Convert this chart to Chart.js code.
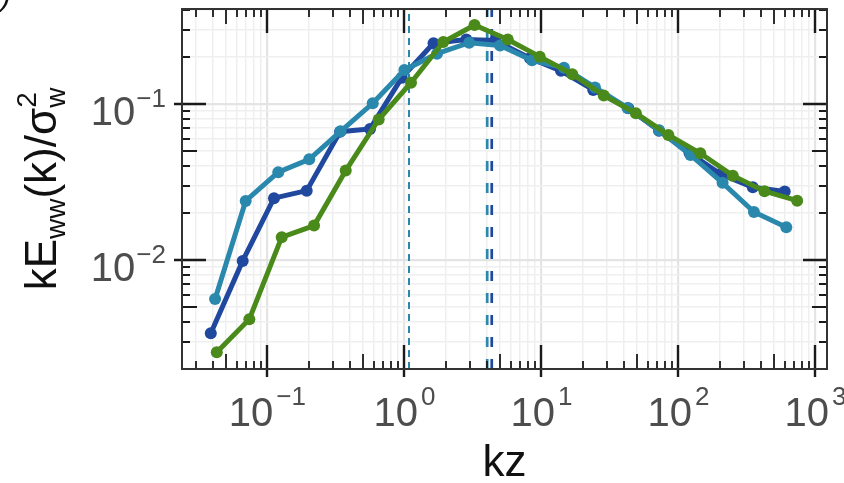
<!DOCTYPE html>
<html lang="en">
<head>
<meta charset="UTF-8">
<title>Vertical velocity spectrum</title>
<style>
  body { margin: 0; background: #fff; }
  #wrap { width: 844px; height: 483px; }
</style>
</head>
<body>
<div id="wrap"><canvas id="spec" width="844" height="483"></canvas></div>
<script src="https://cdn.jsdelivr.net/npm/chart.js"></script>
<script>
// values (kz, premultiplied spectrum)
const kzBlue = [0.0386, 0.066, 0.1117, 0.1936, 0.339, 0.561, 0.956, 1.631, 2.83, 4.6, 8.26, 13.9, 23.9, 43.1, 72.2, 120.5, 202, 349, 597];
const eBlue  = [0.00339, 0.00986, 0.0249, 0.0278, 0.0664, 0.0692, 0.147, 0.245, 0.259, 0.255, 0.196, 0.163, 0.123, 0.0938, 0.0674, 0.0485, 0.0356, 0.0292, 0.0275];

const kzTeal = [0.0415, 0.0694, 0.120, 0.202, 0.342, 0.587, 1.00, 1.73, 2.97, 4.99, 8.54, 14.6, 24.6, 42.5, 72.2, 122.5, 210, 356, 613];
const eTeal  = [0.00562, 0.0239, 0.0365, 0.0442, 0.0668, 0.101, 0.165, 0.210, 0.247, 0.237, 0.1905, 0.1706, 0.1276, 0.0943, 0.0678, 0.0471, 0.0312, 0.0203, 0.0162];

const kzGreen = [0.0427, 0.0738, 0.1272, 0.219, 0.373, 0.649, 1.117, 1.923, 3.25, 5.68, 9.72, 16.8, 28.5, 48.9, 84.4, 144.5, 249.5, 425, 736];
const eGreen  = [0.00256, 0.00417, 0.0140, 0.0166, 0.0374, 0.0795, 0.1368, 0.2496, 0.3206, 0.259, 0.201, 0.155, 0.1134, 0.0872, 0.0633, 0.0483, 0.0347, 0.0276, 0.0240];

// vertical dashed markers
const markTealLow = 1.08;
const markTeal = 4.02;
const markBlue = 4.34;

// axes
const xMin = 0.0238, xMax = 1215;
const yMin = 0.002, yMax = 0.406;
const xLabelExp = [-1, 0, 1, 2, 3];
const yLabelExp = [-2, -1];
const xDecades = [-2, -1, 0, 1, 2, 3];
const yDecades = [-3, -2, -1];

const BLUE = '#20489e', TEAL = '#2a88ad', GREEN = '#4a8a1a';
const FONT = "'Liberation Sans', Arial, sans-serif";

function tickValues(decades, lo, hi) {
    const out = [];
    decades.forEach(d => {
        for (let s = 1; s <= 9; s++) {
            const v = s * Math.pow(10, d);
            if (v >= lo * 0.9999 && v <= hi * 1.0001) out.push(v);
        }
    });
    return out;
}
const xTicks = tickValues(xDecades, xMin, xMax);
const yTicks = tickValues(yDecades, yMin, yMax);

function sig(v) {
    return Math.round(v / Math.pow(10, Math.floor(Math.log10(v) + 1e-9)));
}
function isMajor(v) { return sig(v) === 1; }

function pts(xs, ys) { return xs.map((x, i) => ({ x: x, y: ys[i] })); }
function vline(v) { return [{ x: v, y: yMin }, { x: v, y: yMax }]; }

function series(data, color, order) {
    return {
        data: data, borderColor: color, backgroundColor: color,
        borderWidth: 5, pointRadius: 6, pointBorderWidth: 0,
        pointBackgroundColor: color, tension: 0, order: order
    };
}
function marker(v, color, width, dash) {
    return {
        data: vline(v), borderColor: color, borderWidth: width,
        borderDash: dash, pointRadius: 0, order: 10
    };
}

function gridStyle(c) {
    const v = c.tick ? c.tick.value : 1;
    return isMajor(v) ? '#e4e4e4' : '#efefef';
}
function gridWidth(c) {
    const v = c.tick ? c.tick.value : 1;
    return isMajor(v) ? 2.2 : 1.5;
}

function supText(ctx, base, exp, baseSize, expSize) {
    ctx.font = baseSize + 'px ' + FONT;
    const wb = ctx.measureText(base).width;
    ctx.font = expSize + 'px ' + FONT;
    const we = ctx.measureText(exp).width;
    return { wb: wb, we: we };
}
function expLabel(e) { return e < 0 ? '\u2212' + Math.abs(e) : String(e); }

const decorPlugin = {
    id: 'decor',
    afterDatasetsDraw(chart) {
        const ctx = chart.ctx;
        const a = chart.chartArea;
        const xs = chart.scales.x, ys = chart.scales.y;
        ctx.save();

        // tick marks on all four sides, pointing inward
        ctx.strokeStyle = '#1a1a1a';
        xTicks.forEach(v => {
            const px = Math.round(xs.getPixelForValue(v));
            const s = sig(v);
            const len = s === 1 ? 24 : (s === 5 ? 15 : 8);
            ctx.lineWidth = s === 1 ? 2.4 : 1.8;
            ctx.beginPath();
            ctx.moveTo(px, a.bottom + (s === 1 ? 8 : 0));
            ctx.lineTo(px, a.bottom - len);
            ctx.moveTo(px, a.top);
            ctx.lineTo(px, a.top + len);
            ctx.stroke();
        });
        yTicks.forEach(v => {
            const py = Math.round(ys.getPixelForValue(v));
            const s = sig(v);
            const len = s === 1 ? 24 : (s === 5 ? 15 : 8);
            ctx.lineWidth = s === 1 ? 2.4 : 1.8;
            ctx.beginPath();
            ctx.moveTo(a.left - (s === 1 ? 8 : 0), py);
            ctx.lineTo(a.left + len, py);
            ctx.moveTo(a.right, py);
            ctx.lineTo(a.right - len, py);
            ctx.stroke();
        });

        // frame
        ctx.strokeStyle = '#333333';
        ctx.lineWidth = 2;
        ctx.strokeRect(a.left, a.top, a.right - a.left, a.bottom - a.top);

        // tick labels
        ctx.fillStyle = '#4d4d4d';
        ctx.textBaseline = 'alphabetic';
        ctx.textAlign = 'left';
        xLabelExp.forEach(e => {
            const px = xs.getPixelForValue(Math.pow(10, e));
            const ex = expLabel(e);
            const m = supText(ctx, '10', ex, 40, 26);
            const x0 = px - (m.wb + m.we + 3) / 2;
            ctx.font = '40px ' + FONT;
            ctx.fillText('10', x0, 426);
            ctx.font = '26px ' + FONT;
            ctx.fillText(ex, x0 + m.wb + 3, 405);
        });
        yLabelExp.forEach(e => {
            const py = ys.getPixelForValue(Math.pow(10, e));
            const ex = expLabel(e);
            const m = supText(ctx, '10', ex, 40, 26);
            const right = 166;
            ctx.font = '26px ' + FONT;
            ctx.fillText(ex, right - m.we, py + 3);
            ctx.font = '40px ' + FONT;
            ctx.fillText('10', right - m.we - m.wb - 1, py + 21);
        });

        // axis titles
        ctx.fillStyle = '#111111';
        ctx.font = '44px ' + FONT;
        ctx.textAlign = 'center';
        ctx.fillText('kz', (a.left + a.right) / 2, 476);

        const parts = [
            { t: 'kE', f: 44, dy: 0 },
            { t: 'ww', f: 28, dy: 9 },
            { t: '(k)/\u03c3', f: 44, dy: 0 },
            { stack: [{ t: '2', f: 28, dy: -20 }, { t: 'w', f: 28, dy: 9 }] }
        ];
        ctx.textAlign = 'left';
        let total = 0;
        parts.forEach(p => {
            if (p.stack) {
                p.w = Math.max(...p.stack.map(q => { ctx.font = q.f + 'px ' + FONT; return ctx.measureText(q.t).width; }));
            } else {
                ctx.font = p.f + 'px ' + FONT;
                p.w = ctx.measureText(p.t).width;
            }
            total += p.w;
        });
        ctx.translate(56, (a.top + a.bottom) / 2);
        ctx.rotate(-Math.PI / 2);
        let cx = -total / 2;
        parts.forEach(p => {
            const list = p.stack || [p];
            list.forEach(q => {
                ctx.font = q.f + 'px ' + FONT;
                ctx.fillText(q.t, cx, q.dy);
            });
            cx += p.w;
        });
        ctx.restore();

        // panel letter, cut off at the corner
        ctx.save();
        ctx.fillStyle = '#111111';
        ctx.font = 'italic 30px ' + FONT;
        ctx.fillText(')', 1, 6);
        ctx.restore();
    }
};

const ctx = document.getElementById('spec').getContext('2d');
new Chart(ctx, {
    type: 'line',
    data: {
        datasets: [
            series(pts(kzGreen, eGreen), GREEN, 1),
            series(pts(kzTeal, eTeal), TEAL, 2),
            series(pts(kzBlue, eBlue), BLUE, 3),
            marker(markTealLow, TEAL, 2, [7, 5]),
            marker(markTeal, TEAL, 2.7, [10, 12]),
            marker(markBlue, BLUE, 2.7, [10, 12])
        ]
    },
    options: {
        responsive: false,
        animation: false,
        devicePixelRatio: 1,
        layout: { padding: { left: 182, top: 9, right: 17, bottom: 114 } },
        plugins: { legend: { display: false }, tooltip: { enabled: false } },
        scales: {
            x: {
                type: 'logarithmic', min: xMin, max: xMax,
                border: { display: false },
                grid: { drawTicks: false, color: gridStyle, lineWidth: gridWidth },
                ticks: { display: false },
                afterBuildTicks: s => { s.ticks = xTicks.map(v => ({ value: v })); }
            },
            y: {
                type: 'logarithmic', min: yMin, max: yMax,
                border: { display: false },
                grid: { drawTicks: false, color: gridStyle, lineWidth: gridWidth },
                ticks: { display: false },
                afterBuildTicks: s => { s.ticks = yTicks.map(v => ({ value: v })); }
            }
        }
    },
    plugins: [decorPlugin]
});
</script>
</body>
</html>
